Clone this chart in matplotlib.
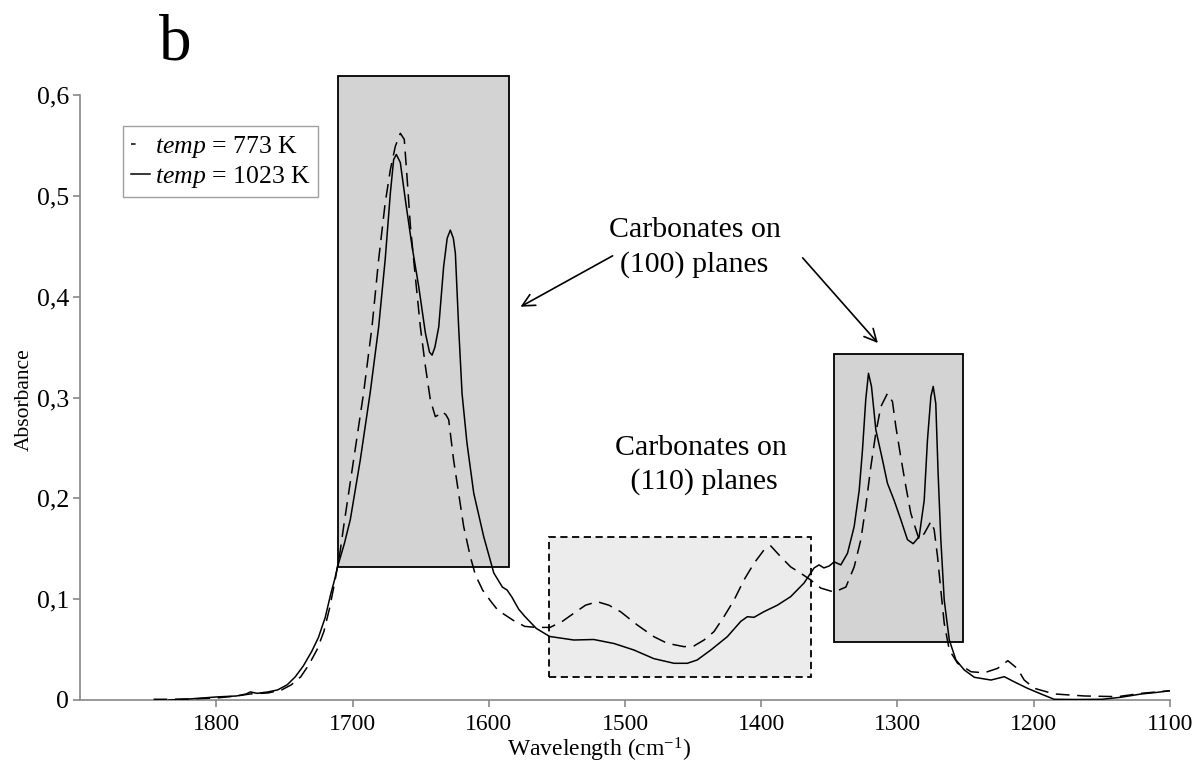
import matplotlib
matplotlib.use("Agg")
import matplotlib.pyplot as plt
from matplotlib.patches import Rectangle
from matplotlib.lines import Line2D
from matplotlib.ticker import FuncFormatter

plt.rcParams['font.family'] = ['Liberation Serif', 'DejaVu Serif']
plt.rcParams['mathtext.fontset'] = 'custom'
plt.rcParams['mathtext.rm'] = 'Liberation Serif'
plt.rcParams['mathtext.it'] = 'Liberation Serif:italic'

# ---- data ----
wn_1023 = [1835, 1820, 1800, 1785, 1778, 1775, 1770, 1762, 1755, 1748, 1742, 1736, 1730,
           1725, 1720, 1716, 1713, 1711, 1706, 1701.6, 1694.3, 1687, 1680.8, 1676, 1672.2,
           1669.8, 1667.8, 1664.9, 1661.2, 1656.3, 1651.4, 1646.5, 1643.5, 1641.6, 1639.5,
           1636.7, 1633.1, 1630.5, 1628.2, 1626, 1624.5, 1622.1, 1619.6, 1616, 1611, 1603.7,
           1596.3, 1590, 1586.5, 1583, 1578, 1573.6, 1565.1, 1555.3, 1537.6, 1522.9, 1508,
           1493.5, 1478.8, 1464, 1454.3, 1447, 1437, 1424.9, 1415, 1410.2, 1405.3, 1398,
           1388.2, 1378.4, 1368.6, 1361.2, 1357.6, 1354, 1350, 1346.5, 1341.6, 1336.7,
           1331.8, 1328.1, 1325.7, 1323.3, 1321.3, 1319.1, 1315.9, 1311, 1307.4, 1302.5,
           1297.6, 1292.7, 1288.5, 1284.1, 1280.4, 1278, 1275.5, 1273.8, 1271.9, 1270.2,
           1268.2, 1265.7, 1262, 1257.1, 1251, 1243.6, 1231.4, 1221.6, 1214.3, 1204.6,
           1194.7, 1185, 1170, 1150, 1136, 1121, 1110, 1100]
abs_1023 = [0.000, 0.001, 0.003, 0.004, 0.006, 0.008, 0.0066, 0.008, 0.010, 0.015, 0.023,
            0.034, 0.048, 0.062, 0.082, 0.105, 0.120, 0.132, 0.155, 0.179, 0.238, 0.305,
            0.370, 0.437, 0.503, 0.536, 0.541, 0.533, 0.496, 0.450, 0.410, 0.364, 0.345,
            0.342, 0.350, 0.370, 0.430, 0.458, 0.466, 0.458, 0.443, 0.370, 0.304, 0.255,
            0.205, 0.162, 0.126, 0.112, 0.109, 0.102, 0.090, 0.083, 0.071, 0.063, 0.0595,
            0.060, 0.056, 0.0496, 0.041, 0.0364, 0.0364, 0.0397, 0.0496, 0.0628, 0.078,
            0.0826, 0.082, 0.0876, 0.094, 0.1025, 0.116, 0.131, 0.134, 0.131, 0.133, 0.137,
            0.134, 0.1455, 0.172, 0.208, 0.248, 0.298, 0.324, 0.311, 0.268, 0.238, 0.215,
            0.198, 0.179, 0.159, 0.155, 0.162, 0.198, 0.258, 0.301, 0.311, 0.294, 0.225,
            0.159, 0.099, 0.0595, 0.0397, 0.0298, 0.0225, 0.0198, 0.0231, 0.018, 0.0116,
            0.006, 0.0007, 0.0005, 0.0007, 0.0027, 0.006, 0.0075, 0.0092]

wn_773 = [1846, 1835, 1820, 1800, 1785, 1775, 1762, 1752, 1745, 1738, 1732, 1726, 1721,
          1717, 1713, 1709, 1706.5, 1699.2, 1691.9, 1685.7, 1680.8, 1676, 1672.2, 1668.6,
          1664.9, 1662, 1660, 1657.5, 1653.9, 1650.2, 1646.5, 1642.9, 1639.2, 1636.5,
          1634.3, 1631.5, 1629.4, 1625.8, 1622.1, 1618.4, 1613.5, 1609.8, 1604.5, 1598,
          1593.3, 1582, 1573.6, 1565, 1555, 1546, 1537.6, 1529, 1520.4, 1511.8, 1503.3,
          1491, 1478.8, 1469, 1456.7, 1449.4, 1442, 1434.7, 1427.4, 1420, 1412.7, 1405.3,
          1398, 1393, 1385.7, 1378.4, 1371, 1363.7, 1356.3, 1346.5, 1337.9, 1331.8, 1326.9,
          1323.3, 1319.6, 1315.9, 1312.2, 1307.4, 1303.7, 1301.2, 1297.6, 1293.9, 1290.2,
          1286.5, 1284.1, 1280.4, 1275.5, 1273.1, 1270.6, 1268.2, 1265.7, 1262, 1255.9,
          1246, 1236.3, 1226.5, 1219, 1211.9, 1207, 1199.6, 1185, 1162.9, 1138.4, 1121,
          1100]
abs_773 = [0.0007, 0.0007, 0.001, 0.002, 0.004, 0.006, 0.007, 0.010, 0.015, 0.023, 0.035,
           0.050, 0.068, 0.090, 0.117, 0.148, 0.172, 0.238, 0.304, 0.370, 0.437, 0.493,
           0.526, 0.549, 0.562, 0.556, 0.519, 0.470, 0.420, 0.370, 0.331, 0.298, 0.281,
           0.283, 0.286, 0.283, 0.278, 0.238, 0.205, 0.172, 0.142, 0.124, 0.109, 0.097,
           0.089, 0.079, 0.073, 0.072, 0.072, 0.078, 0.086, 0.094, 0.0975, 0.094, 0.0876,
           0.0744, 0.0628, 0.0562, 0.0529, 0.0536, 0.0595, 0.0678, 0.0826, 0.099, 0.119,
           0.1356, 0.1488, 0.1528, 0.142, 0.132, 0.1257, 0.119, 0.111, 0.107, 0.112, 0.132,
           0.159, 0.192, 0.231, 0.265, 0.291, 0.304, 0.296, 0.271, 0.241, 0.212, 0.185,
           0.169, 0.159, 0.165, 0.177, 0.169, 0.142, 0.109, 0.076, 0.0496, 0.0364, 0.028,
           0.027, 0.0314, 0.039, 0.031, 0.0198, 0.0116, 0.006, 0.004, 0.0033, 0.0066, 0.0092]

x_ticks = [1800, 1700, 1600, 1500, 1400, 1300, 1200, 1100]
y_ticks = [0, 0.1, 0.2, 0.3, 0.4, 0.5, 0.6]
legend_labels = [r'$\it{temp}$ = 773 K', r'$\it{temp}$ = 1023 K']

# highlighted regions: (x_left, x_right, y_bottom, y_top)
box_100_a = (1711, 1584.8, 0.1316, 0.619)
box_100_b = (1346.5, 1252, 0.0572, 0.343)
box_110 = (1555.9, 1363.2, 0.0225, 0.162)

# ---- figure ----
fig = plt.figure(figsize=(11.96, 7.65), dpi=100)
ax = fig.add_axes([80/1196, 1-700/765, 1090/1196, 605/765])
ax.set_xlim(1900, 1100)
ax.set_ylim(0, 0.6)

def add_box(b, fc, ls, lw):
    r = Rectangle((b[0], b[2]), b[1]-b[0], b[3]-b[2], facecolor=fc, edgecolor='black',
                  linestyle=ls, linewidth=lw, zorder=1, clip_on=False)
    ax.add_patch(r)

add_box(box_100_a, '#d3d3d3', '-', 1.3)
add_box(box_100_b, '#d3d3d3', '-', 1.3)
add_box(box_110, '#ececec', (0, (4, 2.5)), 1.3)

ax.plot(wn_773, abs_773, color='black', lw=1.1, dashes=(9, 5), zorder=3)
ax.plot(wn_1023, abs_1023, color='black', lw=1.1, zorder=3)

# spines / ticks
for s in ['top', 'right']:
    ax.spines[s].set_visible(False)
for s in ['left', 'bottom']:
    ax.spines[s].set_color('#888888')
    ax.spines[s].set_linewidth(1.2)
ax.set_xticks(x_ticks)
ax.set_yticks(y_ticks)
ax.yaxis.set_major_formatter(FuncFormatter(lambda v, p: '0' if v == 0 else f'{v:.1f}'.replace('.', ',')))
ax.tick_params(axis='both', colors='#888888', labelcolor='black',
               length=5, width=1.2, direction='out')
ax.tick_params(axis='x', pad=5, labelsize=17)
ax.tick_params(axis='y', pad=3, labelsize=18.5)

fig.text(599/1196, 1-756/765, r'Wavelength (cm$^{\mathregular{-1}}$)', fontsize=17,
         ha='center', va='baseline')
fig.text(24/1196, 1-400/765, 'Absorbance', fontsize=15.5, rotation=90,
         ha='center', va='center')

# legend
h1 = Line2D([], [], color='black', lw=1.1, dashes=(3, 20))
h2 = Line2D([], [], color='black', lw=1.1)
leg = ax.legend([h1, h2], legend_labels, loc='upper left',
                bbox_to_anchor=((123-80)/1090, (700-126)/605), borderaxespad=0,
                fontsize=18.5, handlelength=0.75, handletextpad=0.2, borderpad=0.3,
                labelspacing=0.15, fancybox=False, frameon=True)
leg.get_frame().set_edgecolor('#888888')
leg.get_frame().set_linewidth(1.0)

# annotations
ax.text(1449, 0.449, 'Carbonates on\n(100) planes', ha='center', va='center',
        fontsize=21.5, linespacing=1.38)
ax.text(1444.5, 0.233, 'Carbonates on\n (110) planes', ha='center', va='center',
        fontsize=21.5, linespacing=1.38)
ax.annotate('', xy=(1576.7, 0.390), xytext=(1509.1, 0.4405),
            arrowprops=dict(arrowstyle='->', color='black', lw=1.2,
                            mutation_scale=22, shrinkA=0, shrinkB=0))
ax.annotate('', xy=(1314.4, 0.354), xytext=(1369.6, 0.4385),
            arrowprops=dict(arrowstyle='->', color='black', lw=1.2,
                            mutation_scale=22, shrinkA=0, shrinkB=0))

fig.text(175/1196, 1-60/765, 'b', ha='center', va='baseline', fontsize=47)

fig.savefig('out.png', dpi=100)
